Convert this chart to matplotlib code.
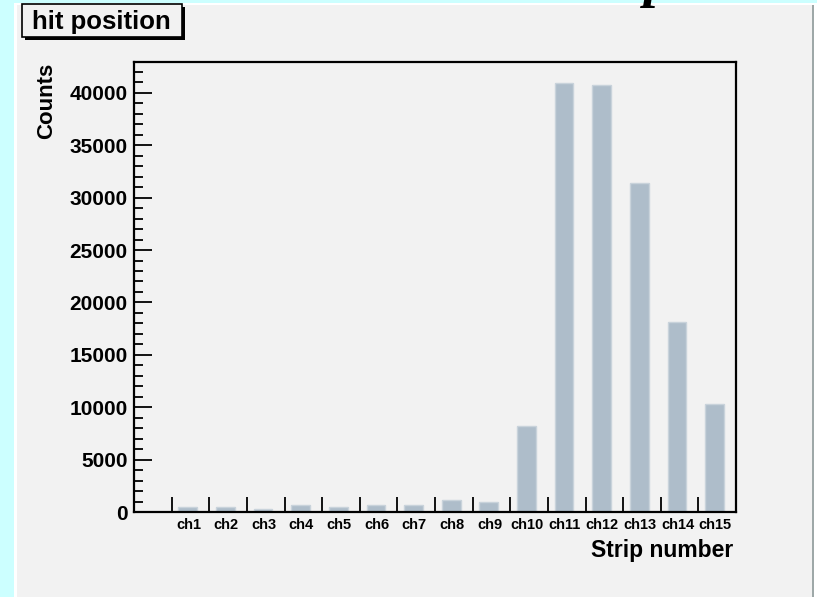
import matplotlib
matplotlib.use("Agg")
import matplotlib.pyplot as plt
from matplotlib.patches import Rectangle
import numpy as np

# Histogram content: hit counts per strip
channels = ["ch1", "ch2", "ch3", "ch4", "ch5", "ch6", "ch7", "ch8",
            "ch9", "ch10", "ch11", "ch12", "ch13", "ch14", "ch15"]
counts = [500, 500, 310, 670, 480, 670, 650, 1110,
          950, 8190, 40900, 40750, 31350, 18100, 10310]

title = "hit position"
xlabel = "Strip number"
ylabel = "Counts"

W, H = 817, 597
DPI = 100
BAR_COLOR = "#aebdca"
BAR_EDGE = "#c9d3db"
CANVAS = "#f2f2f2"
OUTER = "#ccffff"

plt.rcParams["font.family"] = ["Liberation Sans", "DejaVu Sans"]
fig = plt.figure(figsize=(W / DPI, H / DPI), dpi=DPI, facecolor=OUTER)


def px(x0, y0, w, h):
    """Pixel box (from top-left) -> figure fraction rectangle."""
    return (x0 / W, 1 - (y0 + h) / H, w / W, h / H)


# canvas panels (behind the axes)
for (x0, y0, w, h, c) in [
    (14, 3, W - 14, H - 3, "white"),
    (17, 5, 795, H - 5, CANVAS),
    (811.5, 5, 2.5, H - 5, "#9ea8a8"),
]:
    fig.patches.append(Rectangle(px(x0, y0, w, h)[:2], w / W, h / H,
                                 transform=fig.transFigure, facecolor=c,
                                 edgecolor="none", zorder=-5))

# slide heading glyph running off the top edge
fig.text(644 / W, 1 + 4 / H, "p", family="Liberation Serif", weight="bold",
         style="italic", fontsize=40, va="baseline", ha="left", color="black")

# plotting frame
left, right, top, bottom = 134, 736, 62, 512
ax = fig.add_axes([left / W, 1 - bottom / H, (right - left) / W, (bottom - top) / H])
ax.set_zorder(1)
ax.set_facecolor(CANVAS)
for s in ax.spines.values():
    s.set_linewidth(1.6)
    s.set_color("black")

nbins = len(channels) + 1
pos = np.arange(1, nbins)
ax.bar(pos + 0.43, counts, width=0.5, color=BAR_COLOR, edgecolor=BAR_EDGE,
       linewidth=1.0, zorder=2)

ax.set_xlim(0, nbins)
ax.set_ylim(0, max(counts) * 1.05)

# x: bin-edge ticks pointing inward, channel names at bin centres
ax.set_xticks(pos)
ax.set_xticklabels([])
ax.set_xticks(pos + 0.45, minor=True)
ax.set_xticklabels(channels, minor=True, fontsize=10.5, fontweight="bold")
ax.tick_params(axis="x", which="major", direction="in", length=10.8, width=1.3,
               color="black")
ax.tick_params(axis="x", which="minor", length=0, pad=4.5)

# y: major every 5000, minor every 1000
ax.set_yticks(np.arange(0, 40001, 5000))
ax.set_yticks(np.arange(0, 43000, 1000), minor=True)
ax.set_yticklabels([f"{v:d}" for v in range(0, 40001, 5000)],
                   fontsize=15, fontweight="bold")
ax.tick_params(axis="y", which="major", direction="in", length=13, width=1.3,
               pad=4.5, color="black")
ax.tick_params(axis="y", which="minor", direction="in", length=6.5, width=1.3,
               color="black")

# axis titles
fig.text(733 / W, 1 - 557.5 / H, xlabel, ha="right", va="baseline",
         fontsize=16.5, fontweight="bold")
fig.text(47 / W, 1 - 63 / H, ylabel, ha="center", va="top", rotation=90,
         fontsize=16, fontweight="bold")

# title box with drop shadow
bx, by, bw, bh = 21.5, 4, 160, 33
fig.patches.append(Rectangle(px(bx + 3, by + 3, bw, bh)[:2], bw / W, bh / H,
                             transform=fig.transFigure, facecolor="black",
                             edgecolor="none", zorder=3))
fig.patches.append(Rectangle(px(bx, by, bw, bh)[:2], bw / W, bh / H,
                             transform=fig.transFigure, facecolor=CANVAS,
                             edgecolor="black", linewidth=1.2, zorder=4))
fig.text((bx + bw / 2) / W, 1 - (by + bh / 2 + 1) / H, title, ha="center",
         va="center", fontsize=18.5, fontweight="bold", zorder=5)

fig.savefig("out.png", dpi=DPI, facecolor=OUTER)
